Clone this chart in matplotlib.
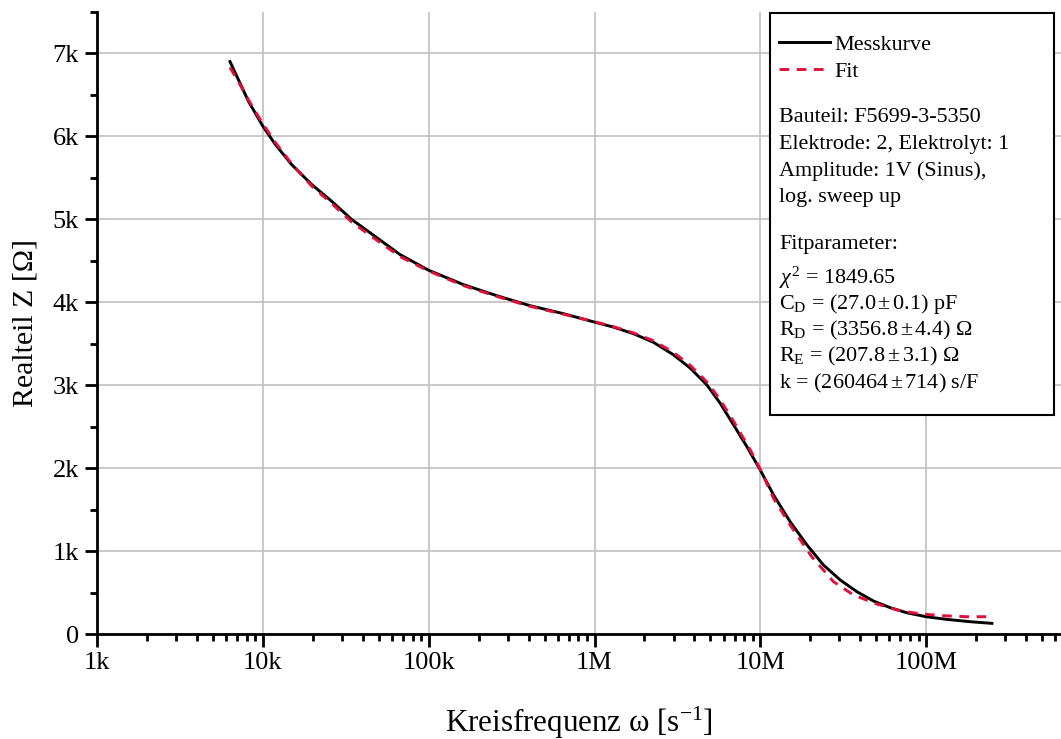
import numpy as np
import matplotlib
matplotlib.use("Agg")
import matplotlib.pyplot as plt
from matplotlib.ticker import FixedLocator, FuncFormatter, LogLocator, MultipleLocator
from matplotlib.patches import Rectangle

plt.rcParams['font.family'] = ['Liberation Serif', 'DejaVu Serif']
plt.rcParams['mathtext.fontset'] = 'custom'
plt.rcParams['mathtext.rm'] = 'Liberation Serif'
plt.rcParams['mathtext.it'] = 'Liberation Serif:italic'

# Messkurve (angular frequency in 1/s, real part in Ohm)
omega_meas = [6.34e3, 7.11e3, 8.18e3, 1.0e4, 1.19e4, 1.49e4, 1.97e4, 2.60e4, 3.44e4,
              5.21e4, 6.72e4, 1.0e5, 1.62e5, 2.57e5, 4.09e5, 6.49e5, 1.0e6, 1.30e6,
              1.72e6, 2.27e6, 2.99e6, 3.77e6, 4.75e6, 5.72e6, 6.89e6, 8.29e6, 1.0e7,
              1.20e7, 1.51e7, 1.91e7, 2.40e7, 3.03e7, 3.82e7, 4.81e7, 6.07e7, 7.64e7,
              1.0e8, 1.33e8, 1.84e8, 2.49e8]
z_meas = [6900, 6686, 6424, 6122, 5901, 5660, 5419, 5217, 4996,
          4735, 4574, 4385, 4212, 4079, 3958, 3862, 3760, 3700,
          3620, 3516, 3367, 3207, 3005, 2784, 2522, 2260, 1975,
          1678, 1356, 1074, 833, 652, 511, 398, 318, 257,
          209, 177, 149, 129]

# Fit
omega_fit = [6.34e3, 7.11e3, 8.18e3, 1.0e4, 1.19e4, 1.49e4, 1.97e4, 2.60e4, 3.44e4,
             5.21e4, 6.72e4, 1.0e5, 1.62e5, 2.57e5, 4.09e5, 6.49e5, 1.0e6, 1.30e6,
             1.72e6, 2.27e6, 2.99e6, 3.77e6, 4.75e6, 5.72e6, 6.89e6, 8.69e6, 1.0e7,
             1.20e7, 1.51e7, 2.04e7, 2.76e7, 3.64e7, 5.04e7, 6.96e7, 9.42e7, 1.27e8,
             1.76e8, 2.43e8]
z_fit = [6830, 6660, 6440, 6150, 5925, 5670, 5400, 5190, 4965,
         4705, 4550, 4375, 4200, 4070, 3950, 3855, 3765, 3705,
         3630, 3535, 3395, 3240, 3040, 2825, 2565, 2220, 1985,
         1637, 1316, 933, 632, 471, 362, 281, 241, 221,
         209, 209]

x_ticks = [1e3, 1e4, 1e5, 1e6, 1e7, 1e8]
x_ticklabels = ['1k', '10k', '100k', '1M', '10M', '100M']
y_ticks = [0, 1000, 2000, 3000, 4000, 5000, 6000, 7000]
y_ticklabels = ['0', '1k', '2k', '3k', '4k', '5k', '6k', '7k']

info_lines = [
    'Bauteil: F5699-3-5350',
    'Elektrode: 2, Elektrolyt: 1',
    'Amplitude: 1V (Sinus),',
    'log. sweep up',
    'Fitparameter:',
    r'$\chi^2$ = 1849.65',
    r'C$_\mathregular{D}$ = (27.0$\,$±$\,$0.1) pF',
    r'R$_\mathregular{D}$ = (3356.8$\,$±$\,$4.4) Ω',
    r'R$_\mathregular{E}$ = (207.8$\,$±$\,$3.1) Ω',
    r'k = (260464$\,$±$\,$714) s/F',
]
# gap before each line, in line heights
line_gaps = [0, 1, 1, 1, 1.77, 1.25, 1, 1, 1, 1]

fig = plt.figure(figsize=(10.61, 7.39), dpi=100)
ax = fig.add_axes([0.0914, 0.142, 0.9086, 0.842])

ax.plot(omega_meas, z_meas, color='black', lw=2.1, label='Messkurve', zorder=3)
ax.plot(omega_fit, z_fit, color='#e0103a', lw=2.1, ls=(0, (3.3, 2.6)), label='Fit', zorder=4)

ax.set_xscale('log')
ax.set_xlim(1e3, 6.5e8)
ax.set_ylim(0, 7500)

ax.xaxis.set_major_locator(FixedLocator(x_ticks))
ax.set_xticklabels(x_ticklabels)
ax.xaxis.set_minor_locator(LogLocator(base=10, subs=np.arange(2, 10)))
ax.xaxis.set_minor_formatter(FuncFormatter(lambda v, p: ''))
ax.yaxis.set_major_locator(FixedLocator(y_ticks))
ax.set_yticklabels(y_ticklabels)
ax.yaxis.set_minor_locator(MultipleLocator(500))

for s in ['top', 'right']:
    ax.spines[s].set_visible(False)
for s in ['left', 'bottom']:
    ax.spines[s].set_linewidth(2.0)

ax.tick_params(which='major', direction='out', length=9, width=2.0, labelsize=19, pad=4)
ax.tick_params(which='minor', direction='out', length=5, width=2.0)
ax.grid(True, which='major', color='#c4bfbf', lw=1.2, zorder=0)

ax.set_xlabel(r'Kreisfrequenz ω [s$^\mathregular{-1}$]', fontsize=22.3, labelpad=22)
ax.set_ylabel('Realteil Z [Ω]', fontsize=21.5, labelpad=10)

# legend box with component info and fit parameters
box = Rectangle((0.698, 0.352), 0.2946, 0.646, transform=ax.transAxes,
                facecolor='white', edgecolor='black', lw=1.5, zorder=5, clip_on=False)
ax.add_patch(box)

leg = ax.legend(loc='upper left', bbox_to_anchor=(0.7075, 0.964), frameon=False,
                fontsize=15.9, handlelength=2.3, handletextpad=0.2, borderpad=0,
                borderaxespad=0, labelspacing=0.3)
leg.set_zorder(6)

y = 0.8296
dy = 0.0426
for line, gap in zip(info_lines, line_gaps):
    y -= gap * dy
    ax.text(0.7075, y, line, transform=ax.transAxes, fontsize=15.9,
            va='center', ha='left', zorder=7)

fig.savefig('out.png', dpi=100)
